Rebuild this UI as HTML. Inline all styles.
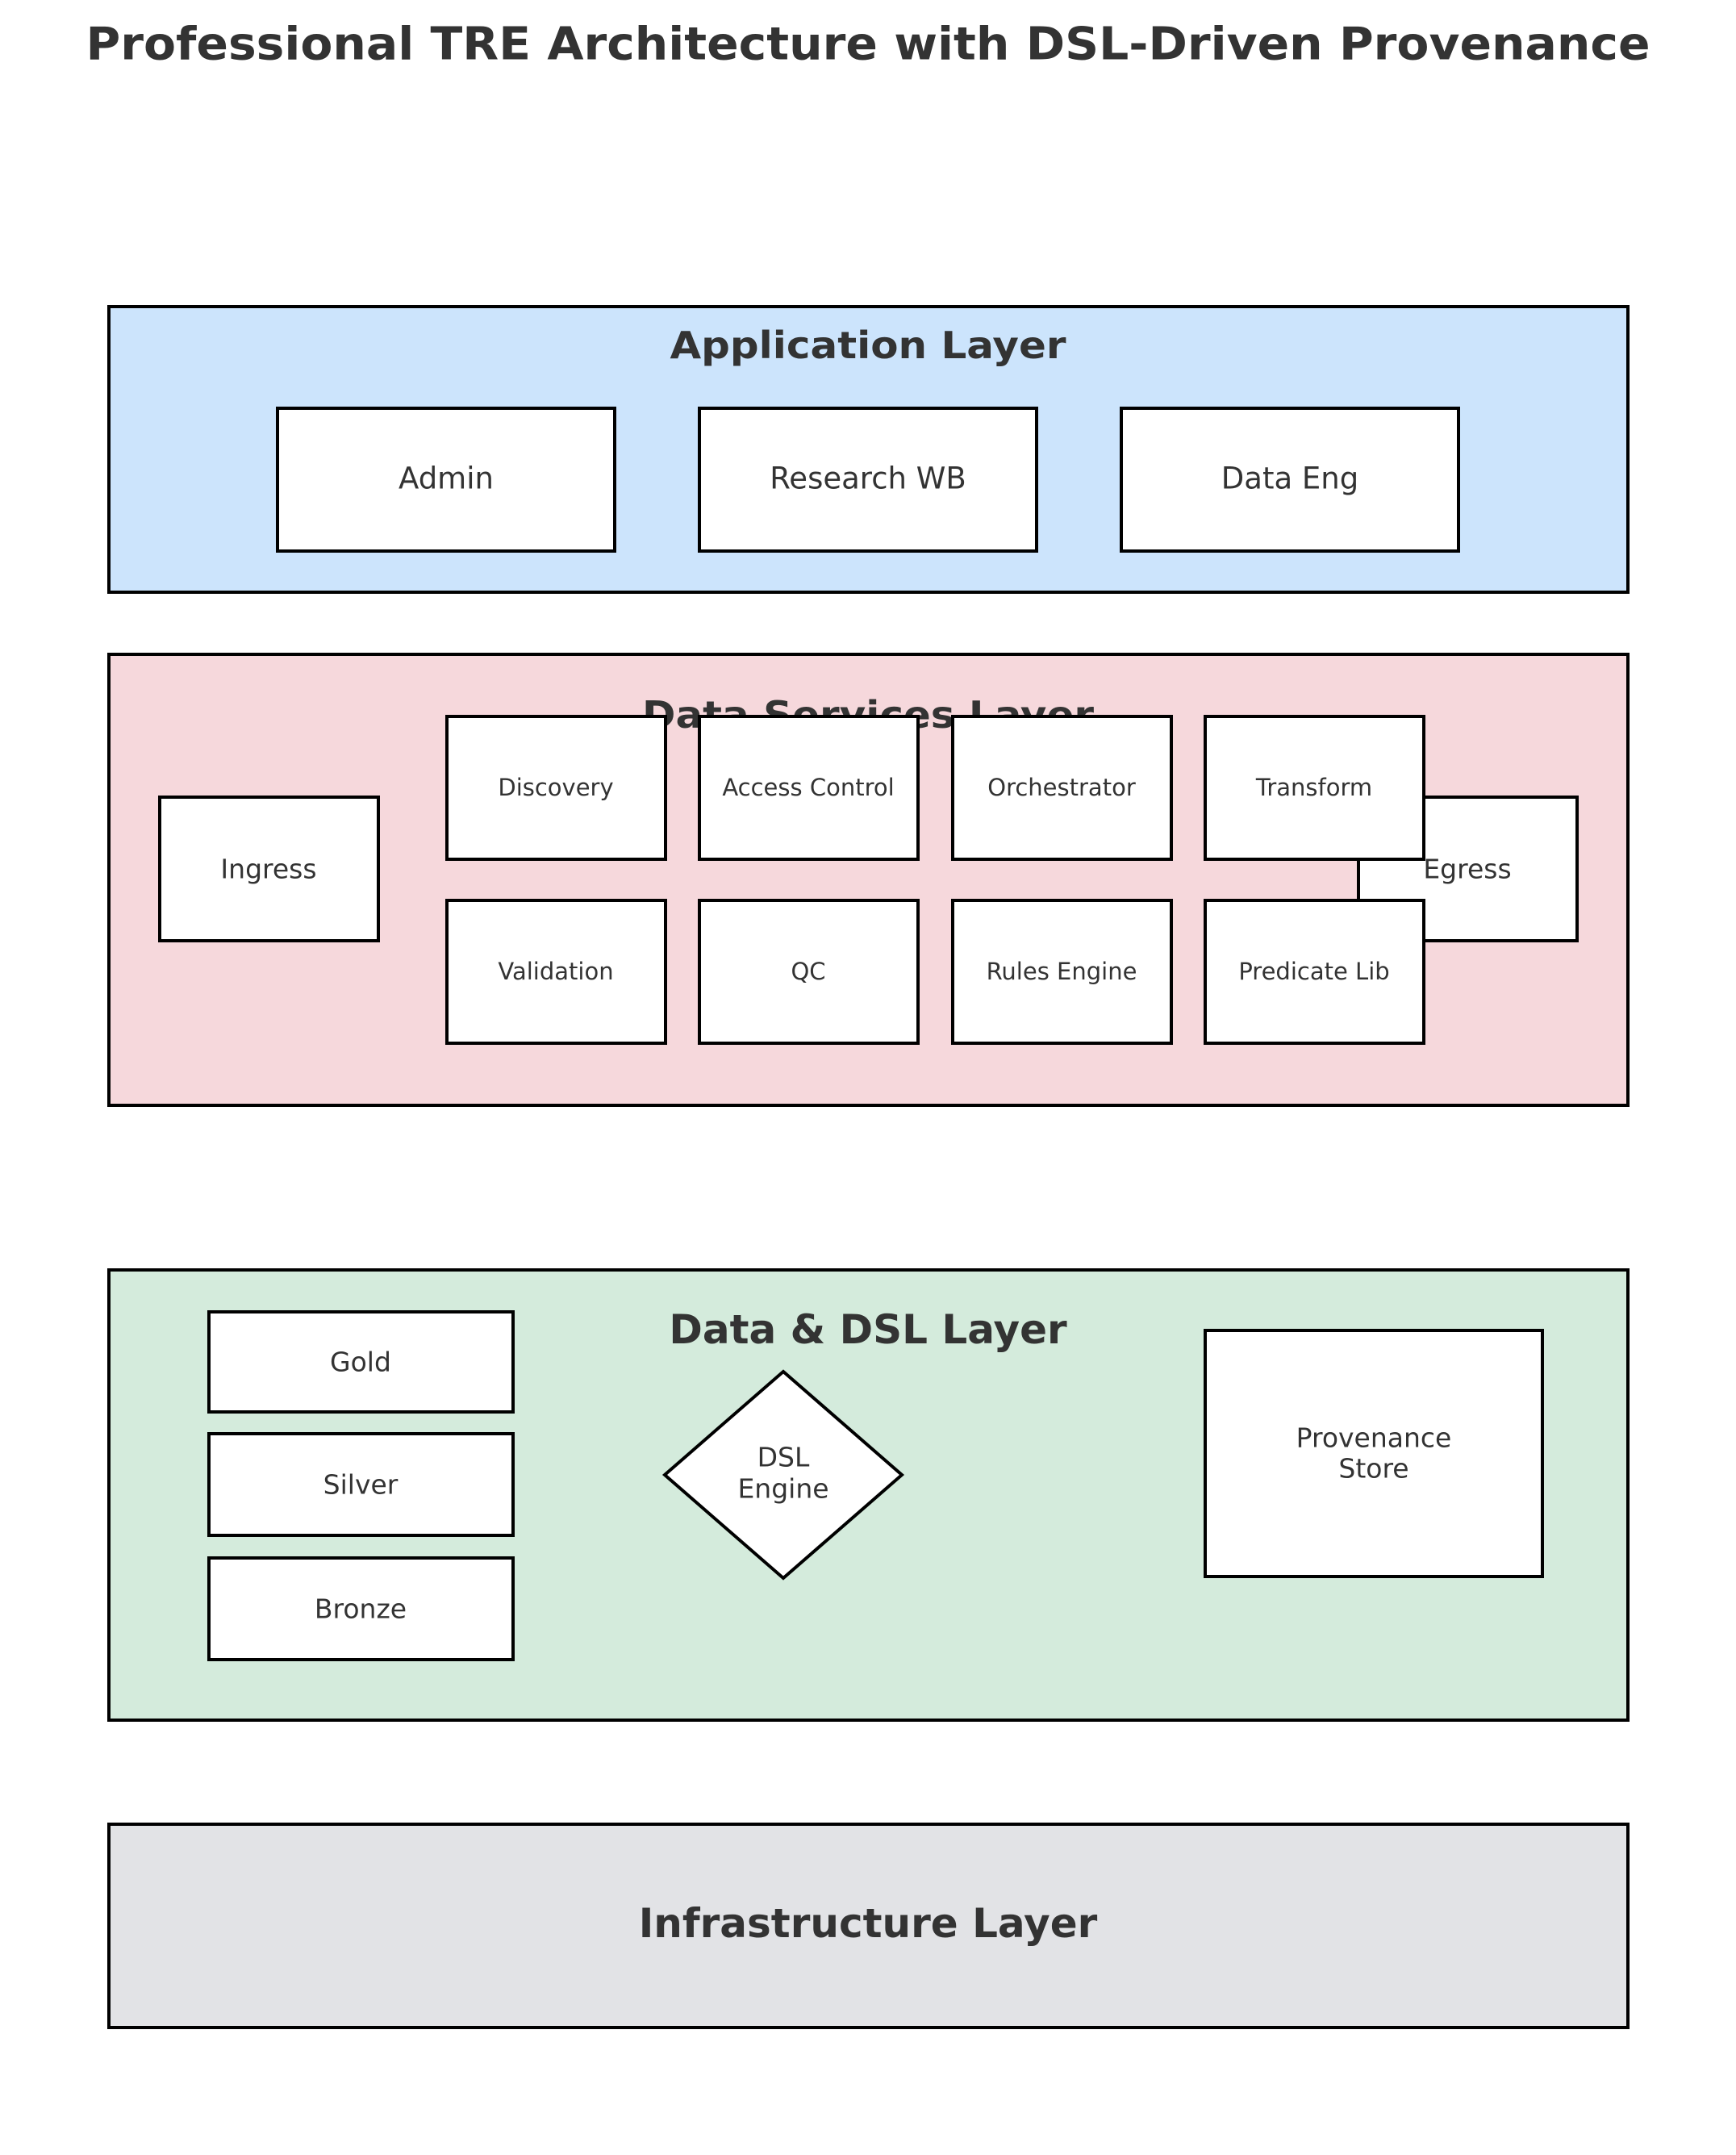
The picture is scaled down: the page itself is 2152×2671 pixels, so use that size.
<!DOCTYPE html>
<html><head><meta charset="utf-8"><style>
html,body{margin:0;padding:0;background:#fff;}
svg{display:block;}
text{font-family:"DejaVu Sans","Liberation Sans",sans-serif;fill:#333;}
.b{font-weight:bold;}
</style></head><body>
<svg width="2152" height="2671" viewBox="0 0 2152 2671" xmlns="http://www.w3.org/2000/svg">
<g stroke="#000" stroke-width="4">
<rect x="135" y="380" width="1883" height="354" fill="#cce4fc"/>
<rect x="135" y="811" width="1883" height="559" fill="#f6d8dc"/>
<rect x="135" y="1574" width="1883" height="558" fill="#d4ebdc"/>
<rect x="135" y="2261" width="1883" height="252" fill="#e2e3e6"/>
</g>
<text x="1076" y="55" class="b" font-size="56" text-anchor="middle" dominant-baseline="central" textLength="1939" lengthAdjust="spacingAndGlyphs">Professional TRE Architecture with DSL-Driven Provenance</text>
<text x="1076" y="428" class="b" font-size="46" text-anchor="middle" dominant-baseline="central" textLength="491" lengthAdjust="spacingAndGlyphs">Application Layer</text>
<text x="1076" y="886" class="b" font-size="46" text-anchor="middle" dominant-baseline="central" textLength="560" lengthAdjust="spacingAndGlyphs">Data Services Layer</text>
<text x="1076" y="1648" class="b" font-size="50" text-anchor="middle" dominant-baseline="central">Data &amp; DSL Layer</text>
<text x="1076" y="2384" class="b" font-size="50" text-anchor="middle" dominant-baseline="central">Infrastructure Layer</text>
<g stroke="#000" stroke-width="4" fill="#fff">
<rect x="344" y="506" width="418" height="177"/>
<rect x="867" y="506" width="418" height="177"/>
<rect x="1390" y="506" width="418" height="177"/>
<rect x="198" y="988" width="271" height="178"/>
<rect x="1684" y="988" width="271" height="178"/>
<rect x="554" y="888" width="271" height="177"/>
<rect x="867" y="888" width="271" height="177"/>
<rect x="1181" y="888" width="271" height="177"/>
<rect x="1494" y="888" width="271" height="177"/>
<rect x="554" y="1116" width="271" height="177"/>
<rect x="867" y="1116" width="271" height="177"/>
<rect x="1181" y="1116" width="271" height="177"/>
<rect x="1494" y="1116" width="271" height="177"/>
<rect x="259" y="1626" width="377" height="124"/>
<rect x="259" y="1777" width="377" height="126"/>
<rect x="259" y="1931" width="377" height="126"/>
<polygon points="971,1700 1118,1828 971,1956 824,1828"/>
<rect x="1494" y="1649" width="418" height="305"/>
</g>
<g text-anchor="middle" dominant-baseline="central">
<text x="553" y="593" font-size="37">Admin</text>
<text x="1076" y="593" font-size="37">Research WB</text>
<text x="1599" y="593" font-size="37">Data Eng</text>
<text x="333" y="1077" font-size="33">Ingress</text>
<text x="1819" y="1077" font-size="33">Egress</text>
<text x="689" y="976" font-size="29">Discovery</text>
<text x="1002" y="976" font-size="29">Access Control</text>
<text x="1316" y="976" font-size="29">Orchestrator</text>
<text x="1629" y="976" font-size="29">Transform</text>
<text x="689" y="1204" font-size="29">Validation</text>
<text x="1002" y="1204" font-size="29">QC</text>
<text x="1316" y="1204" font-size="29">Rules Engine</text>
<text x="1629" y="1204" font-size="29">Predicate Lib</text>
<text x="447" y="1688" font-size="33">Gold</text>
<text x="447" y="1840" font-size="33">Silver</text>
<text x="447" y="1994" font-size="33">Bronze</text>
<text x="971" y="1806" font-size="33">DSL</text>
<text x="971" y="1845" font-size="33">Engine</text>
<text x="1703" y="1782" font-size="33">Provenance</text>
<text x="1703" y="1820" font-size="33">Store</text>
</g>
</svg>
</body></html>
